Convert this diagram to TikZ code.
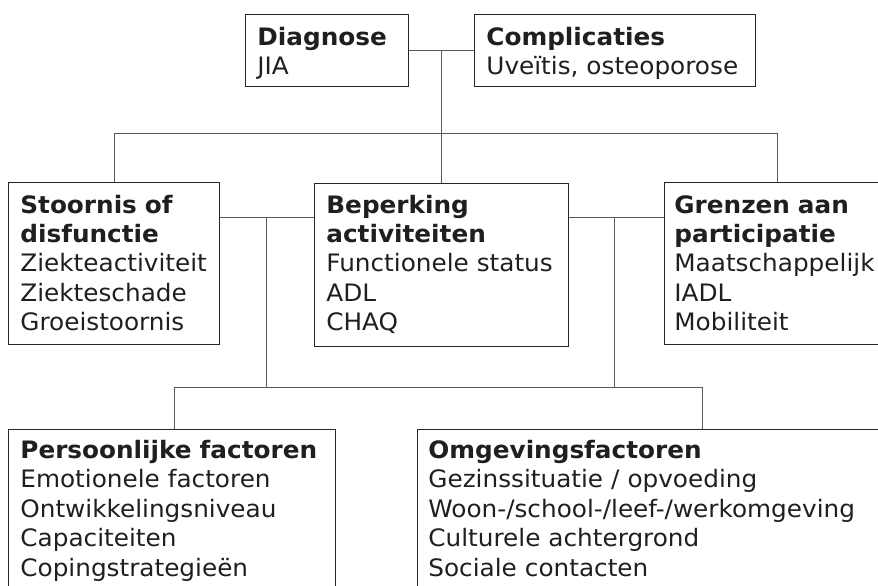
\documentclass[tikz,border=0pt]{standalone}
\usepackage{fontspec}
\setmainfont{DejaVu Sans}[FakeStretch=1.03]
\usetikzlibrary{calc}

\tikzset{
  box/.style={draw=black!85, line width=0.7pt, rectangle, anchor=north west, inner sep=0pt},
  boxtext/.style={anchor=base west, inner sep=0pt, text width=250pt, align=left,
                  font=\fontsize{12}{14.7}\selectfont, text=black!88},
  conn/.style={draw=black!65, line width=0.5pt}
}

\begin{document}
\begin{tikzpicture}[x=0.5pt, y=-0.5pt]
  \useasboundingbox (0,0) rectangle (878,585);
  \fill[white] (0,0) rectangle (878,585);
  \clip (0,0) rectangle (878,585);

  % boxes (sizes in pt = half of the grid unit)
  \node[box, minimum width=81.5pt, minimum height=36pt]  (diag)    at (245,14)  {};
  \node[box, minimum width=140.5pt, minimum height=36pt] (comp)    at (474,14)  {};
  \node[box, minimum width=105.5pt, minimum height=81pt] (stoor)   at (8,182)   {};
  \node[box, minimum width=127pt, minimum height=81.5pt] (beperk)  at (314,183) {};
  \node[box, minimum width=113pt, minimum height=81pt]   (grenzen) at (664,182) {};
  \node[box, minimum width=163.5pt, minimum height=90pt] (pers)    at (8,429)   {};
  \node[box, minimum width=239pt, minimum height=90pt]   (omg)     at (417,429) {};

  % box contents
  \node[boxtext] at ($(diag.north west)+(12,31)$)
    {\textbf{Diagnose}\\JIA};
  \node[boxtext] at ($(comp.north west)+(12,31)$)
    {\textbf{Complicaties}\\Uveïtis, osteoporose};
  \node[boxtext] at ($(stoor.north west)+(12,31)$)
    {\textbf{Stoornis of}\\\textbf{disfunctie}\\Ziekteactiviteit\\Ziekteschade\\Groeistoornis};
  \node[boxtext] at ($(beperk.north west)+(12,30)$)
    {\textbf{Beperking}\\\textbf{activiteiten}\\Functionele status\\ADL\\CHAQ};
  \node[boxtext] at ($(grenzen.north west)+(10,31)$)
    {\textbf{Grenzen aan}\\\textbf{participatie}\\Maatschappelijk\\IADL\\Mobiliteit};
  \node[boxtext] at ($(pers.north west)+(12,29.5)$)
    {\textbf{Persoonlijke factoren}\\Emotionele factoren\\Ontwikkelingsniveau\\Capaciteiten\\Copingstrategieën};
  \node[boxtext] at ($(omg.north west)+(11,29.5)$)
    {\textbf{Omgevingsfactoren}\\Gezinssituatie / opvoeding\\Woon-/school-/leef-/werkomgeving\\Culturele achtergrond\\Sociale contacten};

  % helper levels for the connector runs
  \coordinate (topbus) at (0,133);
  \coordinate (mid)    at (0,217);
  \coordinate (lowbus) at (0,387);
  \coordinate (dropL)  at (266,217);
  \coordinate (dropR)  at (614,217);
  \coordinate (persTop) at ($(pers.north west)+(166,0)$);
  \coordinate (omgTop)  at ($(omg.north west)+(285,0)$);

  % top row
  \draw[conn] (diag.east) -- (comp.west);
  \draw[conn] (diag.east -| beperk.north) -- (beperk.north);
  \draw[conn] (stoor.north) -- (stoor.north |- topbus) -- (grenzen.north |- topbus) -- (grenzen.north);

  % middle row
  \draw[conn] (stoor.east |- mid) -- (beperk.west |- mid);
  \draw[conn] (beperk.east |- mid) -- (grenzen.west |- mid);
  \draw[conn] (dropL) -- (dropL |- lowbus);
  \draw[conn] (dropR) -- (dropR |- lowbus);

  % bottom row
  \draw[conn] (persTop) -- (persTop |- lowbus) -- (omgTop |- lowbus) -- (omgTop);
\end{tikzpicture}
\end{document}
